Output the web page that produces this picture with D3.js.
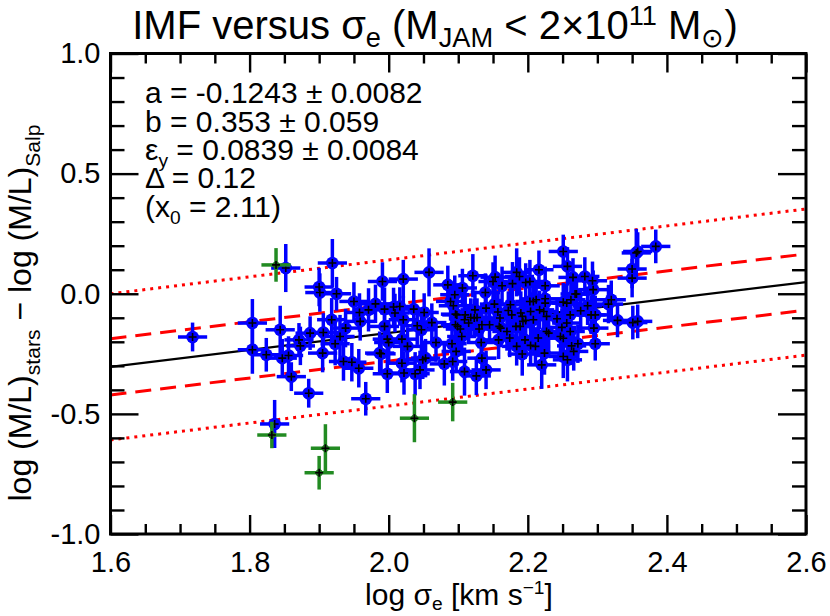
<!DOCTYPE html>
<html><head><meta charset="utf-8">
<script src="https://cdn.jsdelivr.net/npm/d3@7"></script>
<style>
body{margin:0;background:#fff}
text{font-family:"Liberation Sans",Arial,Helvetica,sans-serif;fill:#000}
</style></head>
<body><svg id="chart" width="830" height="616"></svg>
<script>
// ---------------- data ----------------
const xDomain = [1.6, 2.6];
const yDomain = [-1.0, 1.0];
const xTickValues = [1.6, 1.8, 2.0, 2.2, 2.4, 2.6];
const xTickLabels = ["1.6", "1.8", "2.0", "2.2", "2.4", "2.6"];
const yTickValues = [-1.0, -0.5, 0.0, 0.5, 1.0];
const yTickLabels = ["-1.0", "-0.5", "0.0", "0.5", "1.0"];

// best fit y = a + b (x - x0), with rms scatter and 2.6-sigma clipping band
const fitA = -0.1243, fitB = 0.353, fitX0 = 2.11;
const fitRms = 0.117, fitClip = 2.6;

const xErr = 0.021; // 5% error on sigma_e

const blueX = [1.718,1.852,1.919,1.900,1.901,1.925,1.804,1.844,1.804,1.824,1.847,1.856,1.871,1.873,1.887,1.906,1.905,1.918,1.860,1.885,1.836,1.967,
2.058,1.991,2.021,2.085,2.106,2.121,2.095,2.139,2.153,2.150,2.163,2.178,2.184,2.188,2.197,2.203,2.216,2.225,
1.950,1.958,1.971,1.981,1.959,1.994,2.007,2.016,2.009,2.036,2.051,1.938,1.930,1.923,1.935,1.947,1.957,
1.994,1.998,2.000,2.019,2.027,2.021,2.041,2.047,2.062,2.068,1.987,1.998,2.019,2.022,2.038,2.045,2.049,2.053,
2.080,2.092,2.097,2.109,2.126,2.134,2.140,2.133,2.098,2.109,2.099,2.105,2.127,2.115,2.134,2.091,
2.124,2.140,2.160,2.159,2.175,2.177,2.190,2.183,2.193,2.204,2.208,2.217,2.225,2.227,2.174,2.184,2.192,2.204,2.215,2.227,2.220,
2.089,2.093,2.096,2.110,2.118,2.152,2.157,2.172,2.192,2.197,2.203,2.212,2.189,2.096,2.103,2.123,2.130,2.145,2.161,2.170,2.158,2.196,2.211,
2.251,2.257,2.265,2.282,2.293,2.294,2.268,2.356,2.358,2.350,2.350,2.384,2.320,2.316,2.329,2.351,2.358,
2.225,2.251,2.256,2.262,2.270,2.286,2.276,2.291,2.297,2.295,2.297,2.261,2.256,2.249,2.242,2.223,2.230,2.224,2.251,2.257,2.266,2.272,2.263,2.251,2.261,2.247,1.989,2.208];
const blueY = [-0.180,0.107,0.128,0.028,0.005,0.000,-0.122,-0.150,-0.233,-0.254,-0.268,-0.257,-0.192,-0.217,-0.164,-0.161,-0.247,-0.108,-0.345,-0.414,-0.542,-0.437,
0.089,0.051,0.061,0.037,0.024,0.075,-0.004,0.005,0.069,0.051,0.033,0.042,0.089,0.072,0.047,0.051,0.100,0.033,
-0.032,-0.078,-0.067,-0.042,-0.115,-0.064,-0.055,-0.053,-0.080,-0.064,-0.078,-0.143,-0.178,-0.208,-0.282,-0.285,-0.310,
-0.136,-0.189,-0.203,-0.189,-0.219,-0.108,-0.133,-0.150,-0.120,-0.203,-0.247,-0.333,-0.289,-0.330,-0.333,-0.317,-0.275,-0.268,
-0.292,-0.282,-0.240,-0.324,-0.342,-0.268,-0.317,-0.203,-0.088,-0.108,-0.136,-0.178,-0.099,-0.122,-0.129,-0.208,
-0.067,-0.060,-0.101,-0.136,-0.046,-0.088,-0.080,-0.136,-0.115,-0.074,-0.108,-0.067,-0.039,-0.094,-0.184,-0.219,-0.251,-0.215,-0.184,-0.157,-0.296,
-0.032,-0.050,-0.085,-0.088,-0.099,-0.043,-0.076,-0.070,-0.094,-0.111,-0.032,-0.025,-0.136,-0.129,-0.147,-0.101,-0.147,-0.129,-0.143,-0.157,-0.192,-0.192,-0.219,
0.176,0.114,0.068,0.072,0.054,0.017,-0.001,0.170,0.176,0.103,0.065,0.197,-0.025,-0.043,-0.111,-0.120,-0.115,
-0.021,-0.035,-0.039,-0.025,-0.001,-0.050,-0.071,-0.088,-0.088,-0.143,-0.208,-0.088,-0.122,-0.140,-0.104,-0.074,-0.164,-0.247,-0.261,-0.275,-0.240,-0.208,-0.217,-0.185,-0.157,-0.178,-0.250,-0.032];
const blueYErr = [0.06,0.10,0.10,0.08,0.08,0.07,0.10,0.10,0.10,0.07,0.08,0.08,0.07,0.08,0.07,0.08,0.08,0.09,0.06,0.06,0.10,0.07,
0.10,0.08,0.08,0.08,0.08,0.09,0.08,0.08,0.09,0.08,0.08,0.09,0.10,0.08,0.08,0.09,0.08,0.08,
0.08,0.08,0.09,0.08,0.08,0.09,0.08,0.08,0.08,0.08,0.08,0.08,0.09,0.09,0.08,0.08,0.08,
0.08,0.08,0.09,0.08,0.08,0.10,0.08,0.09,0.08,0.08,0.09,0.08,0.08,0.09,0.09,0.08,0.08,0.08,
0.09,0.08,0.09,0.10,0.08,0.08,0.08,0.08,0.09,0.08,0.09,0.08,0.08,0.08,0.08,0.09,
0.08,0.08,0.08,0.08,0.08,0.08,0.09,0.08,0.08,0.08,0.08,0.08,0.09,0.08,0.08,0.08,0.09,0.08,0.08,0.08,0.10,
0.08,0.08,0.08,0.08,0.08,0.09,0.08,0.08,0.08,0.08,0.09,0.08,0.08,0.08,0.08,0.08,0.08,0.08,0.08,0.08,0.08,0.08,0.08,
0.07,0.08,0.08,0.08,0.08,0.08,0.08,0.10,0.08,0.08,0.08,0.07,0.08,0.08,0.07,0.07,0.07,
0.08,0.08,0.08,0.08,0.08,0.08,0.08,0.08,0.08,0.08,0.07,0.08,0.08,0.08,0.08,0.08,0.08,0.09,0.09,0.09,0.08,0.08,0.08,0.08,0.08,0.08,0.08,0.08];

// outliers (clipped from the fit)
const greenX = [1.838, 1.832, 1.909, 1.900, 2.037, 2.092];
const greenY = [0.120, -0.588, -0.643, -0.745, -0.518, -0.451];
const greenYErr = [0.07, 0.055, 0.10, 0.07, 0.10, 0.08];

// ---------------- drawing ----------------
const svg = d3.select("#chart");
const W = 830, H = 616;
const pL = 110.5, pR = 806, pT = 53.5, pB = 534;
const x = d3.scaleLinear().domain(xDomain).range([pL, pR]);
const y = d3.scaleLinear().domain(yDomain).range([pB, pT]);
const FONT = '"Liberation Sans",Arial,Helvetica,sans-serif';

svg.append("rect").attr("width", W).attr("height", H).attr("fill", "#fff");

svg.append("clipPath").attr("id", "plotclip").append("rect")
  .attr("x", pL).attr("y", pT).attr("width", pR - pL).attr("height", pB - pT);

// fit lines
const fitLine = (off) => d3.line()
  .x(d => x(d))
  .y(d => y(fitA + fitB * (d - fitX0) + off));
const gl = svg.append("g").attr("clip-path", "url(#plotclip)");
gl.append("path").datum(xDomain).attr("d", fitLine(0)).attr("fill", "none").attr("stroke", "#000").attr("stroke-width", 2.2);
[-1, 1].forEach(s => {
  gl.append("path").datum(xDomain).attr("d", fitLine(s * fitRms)).attr("fill", "none")
    .attr("stroke", "#ff0000").attr("stroke-width", 3).attr("stroke-dasharray", "16,9");
  gl.append("path").datum(xDomain).attr("d", fitLine(s * fitClip * fitRms)).attr("fill", "none")
    .attr("stroke", "#ff0000").attr("stroke-width", 3).attr("stroke-dasharray", "3,5");
});

// points
function drawPoints(X, Y, EY, barColor, fillColor, r) {
  const data = X.map((v, i) => ({x: v, y: Y[i], ey: EY[i]}));
  const g = svg.append("g");
  g.selectAll(null).data(data).enter().append("line")
    .attr("x1", d => x(d.x - xErr)).attr("x2", d => x(d.x + xErr))
    .attr("y1", d => y(d.y)).attr("y2", d => y(d.y))
    .attr("stroke", barColor).attr("stroke-width", 3.5);
  g.selectAll(null).data(data).enter().append("line")
    .attr("x1", d => x(d.x)).attr("x2", d => x(d.x))
    .attr("y1", d => y(d.y - d.ey)).attr("y2", d => y(d.y + d.ey))
    .attr("stroke", barColor).attr("stroke-width", 3.5);
  g.selectAll(null).data(data).enter().append("circle")
    .attr("cx", d => x(d.x)).attr("cy", d => y(d.y)).attr("r", r)
    .attr("fill", fillColor);
  const p = 4;
  g.selectAll(null).data(data).enter().append("path")
    .attr("d", d => `M${x(d.x) - p},${y(d.y)}H${x(d.x) + p}M${x(d.x)},${y(d.y) - p}V${y(d.y) + p}`)
    .attr("stroke", "#000").attr("stroke-width", 1.6).attr("fill", "none");
}
drawPoints(blueX, blueY, blueYErr, "#0000ff", "#0000ff", 6.3);
drawPoints(greenX, greenY, greenYErr, "#228b22", "#1e6b1e", 3.5);

// axes
const minorX = d3.range(1.6, 2.6001, 0.05).filter(v => !xTickValues.some(t => Math.abs(t - v) < 1e-6));
const minorY = d3.range(-1.0, 1.0001, 0.1).filter(v => !yTickValues.some(t => Math.abs(t - v) < 1e-6));

function styleAxis(g) {
  g.select(".domain").remove();
  g.selectAll(".tick line").attr("stroke", "#000").attr("stroke-width", 2.4);
  g.selectAll(".tick text").attr("font-family", FONT).attr("font-size", 29).attr("fill", "#000");
}
const fmtX = d => xTickLabels[xTickValues.findIndex(t => Math.abs(t - d) < 1e-6)];
const fmtY = d => yTickLabels[yTickValues.findIndex(t => Math.abs(t - d) < 1e-6)];

svg.append("g").attr("transform", `translate(0,${pB})`)
  .call(d3.axisBottom(x).tickValues(xTickValues).tickFormat(fmtX).tickSize(-19).tickPadding(17))
  .call(styleAxis);
svg.append("g").attr("transform", `translate(0,${pB})`)
  .call(d3.axisBottom(x).tickValues(minorX).tickFormat("").tickSize(-10)).call(styleAxis);
svg.append("g").attr("transform", `translate(0,${pT})`)
  .call(d3.axisTop(x).tickValues(xTickValues).tickFormat("").tickSize(-19)).call(styleAxis);
svg.append("g").attr("transform", `translate(0,${pT})`)
  .call(d3.axisTop(x).tickValues(minorX).tickFormat("").tickSize(-10)).call(styleAxis);
svg.append("g").attr("transform", `translate(${pL},0)`)
  .call(d3.axisLeft(y).tickValues(yTickValues).tickFormat(fmtY).tickSize(-28).tickPadding(10))
  .call(styleAxis);
svg.append("g").attr("transform", `translate(${pL},0)`)
  .call(d3.axisLeft(y).tickValues(minorY).tickFormat("").tickSize(-14)).call(styleAxis);
svg.append("g").attr("transform", `translate(${pR},0)`)
  .call(d3.axisRight(y).tickValues(yTickValues).tickFormat("").tickSize(-28)).call(styleAxis);
svg.append("g").attr("transform", `translate(${pR},0)`)
  .call(d3.axisRight(y).tickValues(minorY).tickFormat("").tickSize(-14)).call(styleAxis);

svg.append("rect").attr("x", pL).attr("y", pT).attr("width", pR - pL).attr("height", pB - pT)
  .attr("fill", "none").attr("stroke", "#000").attr("stroke-width", 3);

// rich text helper
function rich(t, parts, size, scale, subOff, supOff) {
  const sc = scale || 0.64;
  const so = subOff || 0.28;
  const po = supOff || 0.42;
  let shift = 0;
  parts.forEach(([s, k]) => {
    const target = k === "sub" ? size * so : k === "sup" ? -size * po : 0;
    t.append("tspan").attr("dy", target - shift).attr("font-size", k === "n" ? size : size * sc).text(s);
    shift = target;
  });
}

// title
rich(svg.append("text").attr("x", 435).attr("y", 39).attr("text-anchor", "middle").attr("font-family", FONT),
  [["IMF versus σ", "n"], ["e", "sub"], [" (M", "n"], ["JAM", "sub"], [" < 2×10", "n"], ["11", "sup"], [" M", "n"], ["⊙", "sub"], [")", "n"]], 40, 0.68, 0.2, 0.34);

// x label
rich(svg.append("text").attr("x", 459).attr("y", 605).attr("text-anchor", "middle").attr("font-family", FONT),
  [["log σ", "n"], ["e", "sub"], [" [km s", "n"], ["−1", "sup"], ["]", "n"]], 30, 0.64, 0.18, 0.36);

// y label
rich(svg.append("text").attr("transform", "translate(31,313) rotate(-90)").attr("text-anchor", "middle").attr("font-family", FONT),
  [["log (M/L)", "n"], ["stars", "sub"], [" − log (M/L)", "n"], ["Salp", "sub"]], 32, 0.66);

// fit annotation
const ann = [
  [["a = -0.1243 ± 0.0082", "n"]],
  [["b = 0.353 ± 0.059", "n"]],
  [["ε", "n"], ["y", "sub"], [" = 0.0839 ± 0.0084", "n"]],
  [["Δ = 0.12", "n"]],
  [["(x", "n"], ["0", "sub"], [" = 2.11)", "n"]]
];
const annY = [103, 132, 160, 188, 217];
ann.forEach((parts, i) => {
  rich(svg.append("text").attr("x", 145).attr("y", annY[i]).attr("font-family", FONT), parts, 30, 0.64, 0.22);
});
</script>
</body></html>
